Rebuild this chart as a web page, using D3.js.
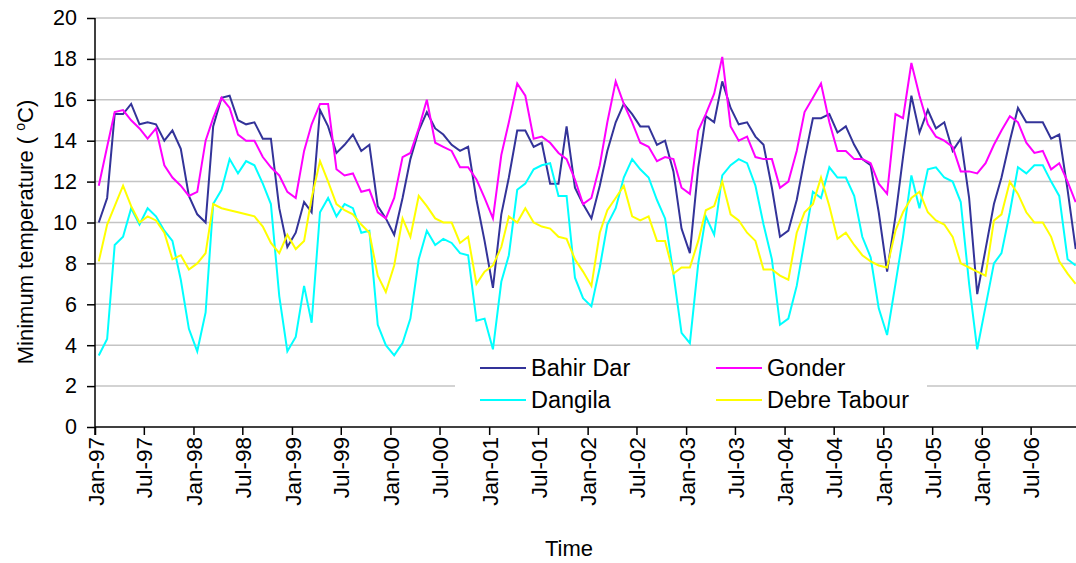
<!DOCTYPE html>
<html>
<head>
<meta charset="utf-8">
<script src="https://cdn.jsdelivr.net/npm/d3@7/dist/d3.min.js"></script>
<style>
  html, body { margin: 0; padding: 0; background: #fff; }
  svg { display: block; font-family: Arial, "Liberation Sans", sans-serif; }
</style>
</head>
<body>
<svg id="chart" width="1076" height="563"></svg>
<script>
// Monthly mean minimum temperature (°C), Jan 1997 – Dec 2006
const startMonth = "Jan-97";
const monthCount = 120;

const bahirDar = [
  10.0, 11.2, 15.3, 15.3, 15.8, 14.8, 14.9, 14.8, 14.0, 14.5, 13.6, 11.3,
  10.4, 10.0, 14.7, 16.1, 16.2, 15.0, 14.8, 14.9, 14.1, 14.1, 10.7, 8.8,
  9.5, 11.0, 10.5, 15.5, 14.7, 13.4, 13.8, 14.3, 13.5, 13.8, 10.8, 10.2,
  9.4, 11.2, 13.1, 14.5, 15.4, 14.6, 14.3, 13.8, 13.5, 13.7, 11.1, 9.1,
  6.8, 10.4, 12.2, 14.5, 14.5, 13.7, 13.9, 11.9, 11.9, 14.7, 11.7, 10.9,
  10.2, 11.8, 13.5, 14.9, 15.8, 15.3, 14.7, 14.7, 13.8, 14.0, 12.5, 9.7,
  8.5, 12.7, 15.2, 14.9, 16.9, 15.6, 14.8, 14.9, 14.2, 13.8, 11.7, 9.3,
  9.6, 11.1, 13.1, 15.1, 15.1, 15.3, 14.4, 14.7, 13.8, 13.1, 12.8, 10.5,
  7.6, 10.3, 13.2, 16.2, 14.4, 15.5, 14.6, 14.9, 13.5, 14.1, 11.2, 6.5,
  8.7, 10.9, 12.2, 14.0, 15.6, 14.9, 14.9, 14.9, 14.1, 14.3, 11.6, 8.7
];

const gonder = [
  11.8, 13.7, 15.4, 15.5, 15.0, 14.6, 14.1, 14.6, 12.8, 12.2, 11.8, 11.3,
  11.5, 14.0, 15.1, 16.1, 15.6, 14.3, 14.0, 14.0, 13.2, 12.7, 12.3, 11.5,
  11.2, 13.5, 14.8, 15.8, 15.8, 12.6, 12.3, 12.4, 11.5, 11.6, 10.5, 10.2,
  11.2, 13.2, 13.4, 14.6, 16.0, 13.9, 13.7, 13.5, 12.7, 12.7, 12.1, 11.2,
  10.2, 13.3, 14.9, 16.8, 16.2, 14.1, 14.2, 13.9, 13.4, 13.1, 12.1, 10.9,
  11.2, 12.8, 14.9, 16.9, 15.8, 14.9, 13.9, 13.7, 13.0, 13.2, 13.1, 11.7,
  11.4, 14.5, 15.3, 16.3, 18.1, 14.7, 14.0, 14.2, 13.2, 13.1, 13.1, 11.7,
  12.0, 13.5, 15.4, 16.1, 16.8, 14.9, 13.5, 13.5, 13.1, 13.1, 12.9, 11.9,
  11.4, 15.3, 15.1, 17.8, 16.2, 14.8, 14.2, 14.0, 13.7, 12.5, 12.5, 12.4,
  12.9, 13.8, 14.5, 15.2, 14.9, 13.9, 13.4, 13.5, 12.6, 12.9, 12.0, 11.0
];

const dangila = [
  3.5, 4.3, 8.9, 9.3, 10.7, 9.9, 10.7, 10.3, 9.6, 9.1, 7.2, 4.8,
  3.7, 5.6, 10.9, 11.6, 13.1, 12.4, 13.0, 12.8, 11.9, 10.9, 6.4, 3.7,
  4.4, 6.9, 5.1, 10.5, 11.2, 10.3, 10.9, 10.7, 9.5, 9.6, 5.0, 4.0,
  3.5, 4.1, 5.3, 8.2, 9.6, 8.9, 9.2, 9.0, 8.5, 8.4, 5.2, 5.3,
  3.8, 7.1, 8.4, 11.6, 11.9, 12.6, 12.8, 12.9, 11.3, 11.3, 7.3, 6.3,
  5.9, 7.8, 9.9, 10.7, 12.2, 13.1, 12.6, 12.2, 11.1, 10.2, 7.5, 4.6,
  4.1, 8.0, 10.3, 9.4, 12.3, 12.8, 13.1, 12.9, 11.8, 9.9, 8.2, 5.0,
  5.3, 6.9, 9.1, 11.5, 11.2, 12.7, 12.2, 12.2, 11.3, 9.3, 8.3, 5.8,
  4.5, 7.0, 9.3, 12.3, 10.7, 12.6, 12.7, 12.2, 12.0, 11.0, 7.0, 3.8,
  5.9, 8.0, 8.5, 10.5, 12.7, 12.4, 12.8, 12.8, 12.0, 11.3, 8.2, 7.9
];

const debreTabour = [
  8.1, 9.9, 10.8, 11.8, 10.8, 10.0, 10.3, 10.1, 9.5, 8.2, 8.4, 7.7,
  8.0, 8.5, 10.9, 10.7, 10.6, 10.5, 10.4, 10.3, 9.8, 9.0, 8.5, 9.4,
  8.7, 9.1, 11.2, 13.0, 12.0, 10.9, 10.6, 10.4, 9.9, 9.5, 7.4, 6.6,
  7.9, 10.2, 9.3, 11.3, 10.8, 10.2, 10.0, 10.0, 9.0, 9.3, 7.0, 7.6,
  7.9, 8.8, 10.3, 10.0, 10.7, 10.0, 9.8, 9.7, 9.3, 9.2, 8.2, 7.6,
  6.9, 9.5, 10.6, 11.2, 11.8, 10.3, 10.1, 10.3, 9.1, 9.1, 7.5, 7.8,
  7.8, 9.1, 10.6, 10.8, 12.0, 10.4, 10.1, 9.5, 9.1, 7.7, 7.7, 7.4,
  7.2, 9.5, 10.5, 10.9, 12.2, 10.8, 9.2, 9.5, 8.9, 8.4, 8.1, 7.9,
  7.8, 9.6, 10.5, 11.2, 11.5, 10.5, 10.1, 9.9, 9.3, 8.0, 7.8, 7.6,
  7.4, 10.1, 10.4, 12.0, 11.4, 10.5, 10.0, 10.0, 9.3, 8.1, 7.5, 7.0
];

const seriesNames = ["Bahir Dar", "Gonder", "Dangila", "Debre Tabour"];
const seriesColors = ["#333399", "#ff00ff", "#00ffff", "#ffff00"];

const xTickLabels = [
  "Jan-97", "Jul-97", "Jan-98", "Jul-98", "Jan-99", "Jul-99", "Jan-00", "Jul-00",
  "Jan-01", "Jul-01", "Jan-02", "Jul-02", "Jan-03", "Jul-03", "Jan-04", "Jul-04",
  "Jan-05", "Jul-05", "Jan-06", "Jul-06"
];
const yTicks = [0, 2, 4, 6, 8, 10, 12, 14, 16, 18, 20];

// ---- layout ----
const svg = d3.select("#chart");
const W = 1076, H = 563;
const plot = { left: 95, top: 18, bottom: 427 };

const parseMonth = d3.timeParse("%b-%y");
const fmtMonth = d3.timeFormat("%b-%y");
const firstMonth = parseMonth(startMonth);
const monthStarts = d3.timeMonth.range(firstMonth, d3.timeMonth.offset(firstMonth, monthCount));
// each monthly value is plotted mid-month
const dates = monthStarts.map(m => d3.timeDay.offset(m, 14));

const x = d3.scaleTime()
  .domain([firstMonth, new Date(2006, 11, 31)])
  .range([plot.left, 1080]);
const y = d3.scaleLinear().domain([0, 20]).range([plot.bottom, plot.top]);

svg.append("rect").attr("width", W).attr("height", H).attr("fill", "#fff");

// horizontal gridlines
svg.append("g")
  .selectAll("line")
  .data(yTicks.filter(t => t > 0))
  .join("line")
  .attr("x1", plot.left).attr("x2", W)
  .attr("y1", d => y(d)).attr("y2", d => y(d))
  .attr("stroke", "#c4c4c4").attr("stroke-width", 1.5);

// series lines
const series = [bahirDar, gonder, dangila, debreTabour];
const line = d3.line()
  .x((d, i) => x(dates[i]))
  .y(d => y(d));

svg.append("g")
  .selectAll("path")
  .data(series)
  .join("path")
  .attr("d", d => line(d))
  .attr("fill", "none")
  .attr("stroke", (d, i) => seriesColors[i])
  .attr("stroke-width", 2)
  .attr("stroke-linejoin", "miter");

// y axis
const yAxis = d3.axisLeft(y).tickValues(yTicks).tickSize(8).tickPadding(10).tickFormat(d3.format("d"));
const gy = svg.append("g").attr("transform", `translate(${plot.left},0)`).call(yAxis);
gy.select(".domain").attr("stroke", "#000").attr("stroke-width", 1.5)
  .attr("d", `M0,${plot.top}V${plot.bottom + 8}`);
gy.selectAll(".tick line").attr("stroke", "#000").attr("stroke-width", 1.5);
gy.selectAll(".tick text")
  .attr("font-size", 21.5).attr("fill", "#000")
  .attr("font-family", 'Arial, "Liberation Sans", sans-serif');

// x axis
const xAxis = d3.axisBottom(x)
  .tickValues(xTickLabels.map(parseMonth))
  .tickSize(8)
  .tickFormat(fmtMonth);
const gx = svg.append("g").attr("transform", `translate(0,${plot.bottom})`).call(xAxis);
gx.select(".domain").attr("stroke", "#000").attr("stroke-width", 1.5)
  .attr("d", `M${plot.left},0H${W}`);
gx.selectAll(".tick line").attr("stroke", "#000").attr("stroke-width", 1.5);
gx.selectAll(".tick text")
  .attr("font-size", 22.5).attr("fill", "#000")
  .attr("font-family", 'Arial, "Liberation Sans", sans-serif')
  .attr("text-anchor", "end")
  .attr("transform", "rotate(-90)")
  .attr("x", -10).attr("y", 0).attr("dy", "0.36em");

// axis titles
svg.append("text")
  .attr("x", 569).attr("y", 556)
  .attr("text-anchor", "middle")
  .attr("font-size", 22)
  .text("Time");

const yTitle = svg.append("text")
  .attr("transform", "translate(33,232) rotate(-90)")
  .attr("text-anchor", "middle")
  .attr("font-size", 22);
yTitle.append("tspan").text("Minimum temperature ( ");
yTitle.append("tspan").attr("font-size", 14).attr("dy", -8).text("o");
yTitle.append("tspan").attr("dy", 8).text("C)");

// legend
const legend = svg.append("g");
legend.append("rect")
  .attr("x", 455).attr("y", 350).attr("width", 472).attr("height", 68)
  .attr("fill", "#fff");
const legendPos = [
  { lx: 480, ly: 368 }, { lx: 716, ly: 368 },
  { lx: 480, ly: 400 }, { lx: 716, ly: 400 }
];
const items = legend.selectAll("g.item")
  .data(seriesNames)
  .join("g").attr("class", "item")
  .attr("transform", (d, i) => `translate(${legendPos[i].lx},${legendPos[i].ly})`);
items.append("line")
  .attr("x1", 0).attr("x2", 46).attr("y1", 0).attr("y2", 0)
  .attr("stroke", (d, i) => seriesColors[i]).attr("stroke-width", 2);
items.append("text")
  .attr("x", 51).attr("y", 0).attr("dy", "0.36em")
  .attr("font-size", 23.5)
  .text(d => d);
</script>
</body>
</html>
